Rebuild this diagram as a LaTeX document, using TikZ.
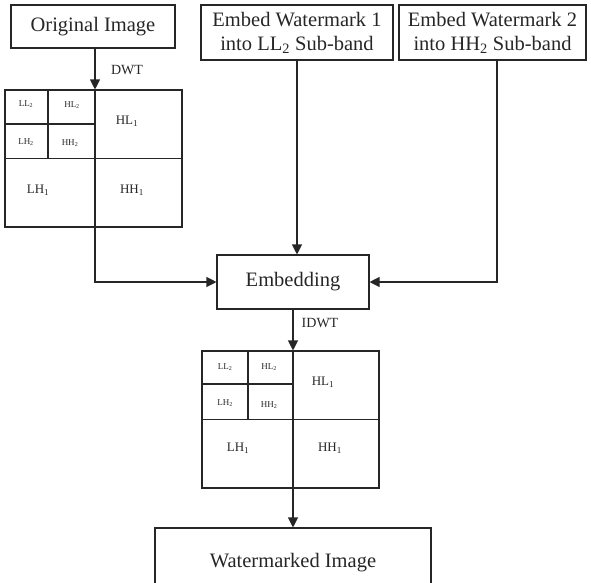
\documentclass[tikz,border=0pt]{standalone}
\usepackage{fontspec}
\setmainfont{Liberation Serif}
\usetikzlibrary{arrows.meta}

\begin{document}
\begin{tikzpicture}[x=1pt,y=-1pt,color=black!85,line width=1.1pt,
  box/.style={draw, inner sep=0pt, align=center, font=\fontsize{20.5}{24}\selectfont},
  band/.style={draw, minimum width=177pt, minimum height=137pt, inner sep=0pt},
  big/.style={font=\fontsize{13}{15}\selectfont},
  small/.style={font=\fontsize{9}{10}\selectfont},
  lbl/.style={font=\fontsize{14}{16}\selectfont},
  >={Triangle[length=10pt,width=10pt]}]
  \useasboundingbox (0,0) rectangle (591,582);
  % blocks
  \node[box, minimum width=164pt, minimum height=43pt] (O) at (93,26.5) {Original Image};
  \node[box, minimum width=192pt, minimum height=55pt] (W1) at (297,32.5) {Embed Watermark 1\\into LL\textsubscript{2} Sub-band};
  \node[box, minimum width=187pt, minimum height=55pt] (W2) at (492.5,32.5) {Embed Watermark 2\\into HH\textsubscript{2} Sub-band};
  \node[box, minimum width=152pt, minimum height=54pt] (E) at (293,282) {Embedding};
  \node[box, minimum width=276pt, minimum height=70pt] (R) at (293,563) {Watermarked Image};
  % sub-band grids
  \node[band] (G1) at (93.5,158.5) {};
  \node[band] (G2) at (290.5,419.5) {};
  \draw (G1.west) -- (G1.east);
  \draw (48,90) -- (48,159);
  \draw (4,124) -- (95,124);
  \draw (G2.west) -- (G2.east);
  \draw (248,351) -- (248,420);
  \draw (201,384) -- (293,384);
  \node[small] (A1) at (26,104) {LL\textsubscript{2}};
  \node[small] (A2) at (72,105) {HL\textsubscript{2}};
  \node[small] (A3) at (26,142) {LH\textsubscript{2}};
  \node[small] (A4) at (70,143) {HH\textsubscript{2}};
  \node[big] (A5) at (127,121) {HL\textsubscript{1}};
  \node[big] (A6) at (38,190) {LH\textsubscript{1}};
  \node[big] (A7) at (132,190) {HH\textsubscript{1}};
  \node[small] (B1) at (225,367) {LL\textsubscript{2}};
  \node[small] (B2) at (269,367) {HL\textsubscript{2}};
  \node[small] (B3) at (225,403) {LH\textsubscript{2}};
  \node[small] (B4) at (269,405) {HH\textsubscript{2}};
  \node[big] (B5) at (323,382) {HL\textsubscript{1}};
  \node[big] (B6) at (238,448) {LH\textsubscript{1}};
  \node[big] (B7) at (330,448) {HH\textsubscript{1}};
  % connectors
  \coordinate (x1) at (95,0);
  \coordinate (x2) at (497,0);
  \coordinate (x3) at (293,0);
  \node[lbl] (D1) at (127,70) {DWT};
  \node[lbl] (D2) at (320,323) {IDWT};
  \draw[->] (O.south -| x1) -- (G1.north -| x1);
  \draw[->] (G1.north -| x1) -- (G1.south -| x1) |- (E);
  \draw[->] (W1) -- (W1 |- E.north);
  \draw[->] (W2.south -| x2) |- (E);
  \draw[->] (E.south -| x3) -- (G2.north -| x3);
  \draw[->] (G2.north -| x3) -- (R);
\end{tikzpicture}
\end{document}
